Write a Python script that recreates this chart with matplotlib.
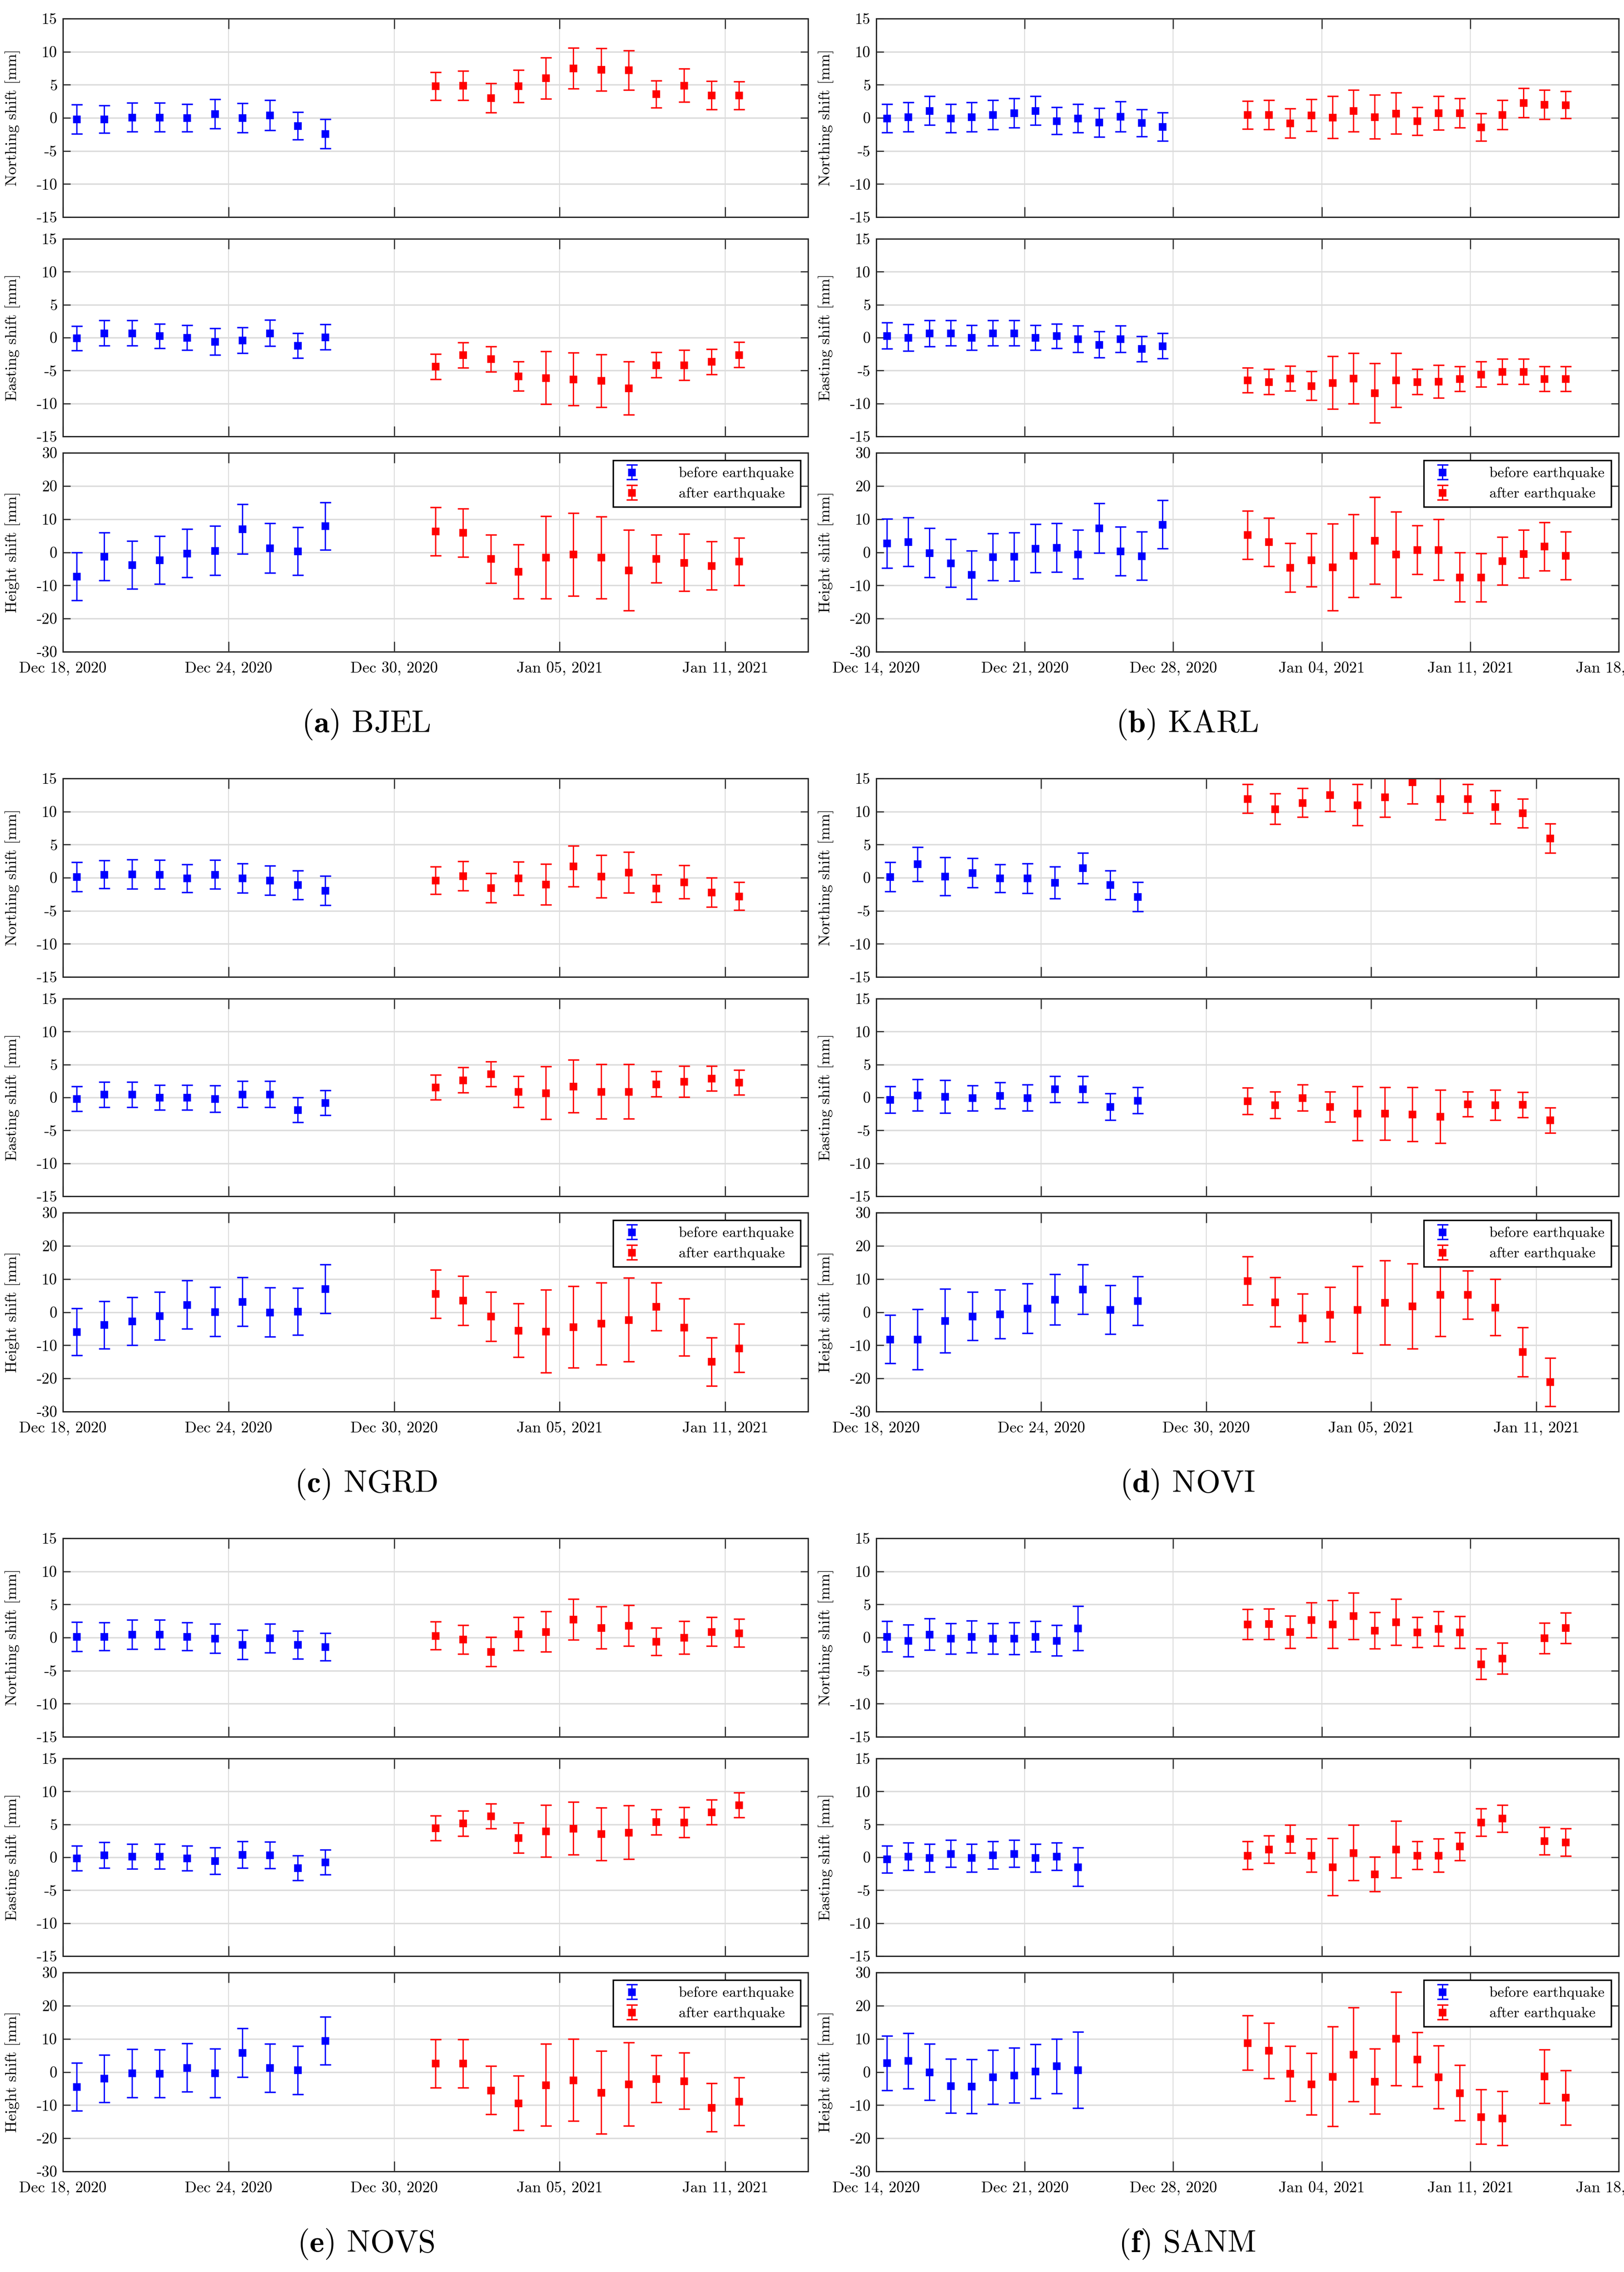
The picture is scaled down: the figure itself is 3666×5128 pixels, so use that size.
import numpy as np
import pandas as pd
import matplotlib
matplotlib.use('Agg')
import matplotlib.pyplot as plt
import matplotlib.dates as mdates

plt.rcParams['font.family'] = ['cmr10', 'DejaVu Serif']
plt.rcParams['mathtext.fontset'] = 'cm'
plt.rcParams['axes.unicode_minus'] = False
plt.rcParams['axes.formatter.use_mathtext'] = True

# ---- dates (daily solutions, plotted at midday) ----
def days(a, b):
    return pd.date_range(a, b, freq='D') + pd.Timedelta(hours=12)

DATES_B_18 = days('2020-12-18', '2020-12-27')
DATES_A_18 = days('2020-12-31', '2021-01-11')
KARL_DATES_B = days('2020-12-14', '2020-12-27')
KARL_DATES_A = days('2020-12-31', '2021-01-15')
SANM_DATES_B = days('2020-12-14', '2020-12-23')
SANM_DATES_A = days('2020-12-31', '2021-01-12').append(days('2021-01-14', '2021-01-15'))

# ---- BJEL ----
BJEL_N_B = [-0.2, -0.2, 0.1, 0.1, 0.0, 0.6, 0.0, 0.4, -1.2, -2.4]
BJEL_N_B_ERR = [2.2, 2.1, 2.2, 2.2, 2.05, 2.2, 2.2, 2.3, 2.1, 2.2]
BJEL_N_A = [4.8, 4.9, 3.0, 4.8, 6.0, 7.5, 7.3, 7.2, 3.6, 4.9, 3.4, 3.4]
BJEL_N_A_ERR = [2.1, 2.2, 2.2, 2.45, 3.1, 3.1, 3.2, 3.0, 2.05, 2.5, 2.15, 2.1]
BJEL_E_B = [-0.1, 0.7, 0.7, 0.25, 0.0, -0.6, -0.4, 0.7, -1.2, 0.1]
BJEL_E_B_ERR = [1.85, 1.9, 1.9, 1.85, 1.9, 2.0, 1.95, 2.0, 1.9, 1.9]
BJEL_E_A = [-4.4, -2.65, -3.25, -5.85, -6.1, -6.3, -6.55, -7.65, -4.15, -4.15, -3.65, -2.6]
BJEL_E_A_ERR = [1.9, 1.9, 1.9, 2.25, 4.0, 4.0, 4.0, 4.05, 1.9, 2.3, 1.9, 1.9]
BJEL_H_B = [-7.25, -1.3, -3.8, -2.3, -0.3, 0.5, 7.0, 1.3, 0.3, 7.9]
BJEL_H_B_ERR = [7.25, 7.2, 7.2, 7.2, 7.3, 7.4, 7.45, 7.45, 7.2, 7.2]
BJEL_H_A = [6.3, 5.9, -2.0, -5.8, -1.5, -0.65, -1.6, -5.4, -1.9, -3.1, -4.05, -2.8]
BJEL_H_A_ERR = [7.3, 7.3, 7.3, 8.15, 12.4, 12.45, 12.4, 12.2, 7.2, 8.6, 7.3, 7.2]

# ---- KARL ----
KARL_N_B = [-0.05, 0.15, 1.1, -0.05, 0.15, 0.45, 0.75, 1.1, -0.45, -0.05, -0.7, 0.2, -0.75, -1.35]
KARL_N_B_ERR = [2.15, 2.2, 2.15, 2.15, 2.2, 2.2, 2.2, 2.15, 2.05, 2.15, 2.2, 2.3, 2.05, 2.15]
KARL_N_A = [0.45, 0.45, -0.8, 0.4, 0.1, 1.05, 0.15, 0.7, -0.5, 0.75, 0.75, -1.4, 0.45, 2.3, 2.0, 1.95]
KARL_N_A_ERR = [2.1, 2.2, 2.2, 2.4, 3.2, 3.15, 3.3, 3.1, 2.1, 2.55, 2.2, 2.05, 2.2, 2.2, 2.2, 2.05]
KARL_E_B = [0.3, 0.0, 0.65, 0.7, 0.0, 0.7, 0.7, 0.0, 0.25, -0.2, -1.05, -0.2, -1.7, -1.25]
KARL_E_B_ERR = [2.0, 2.0, 2.0, 1.9, 1.9, 1.9, 1.9, 1.9, 1.85, 2.0, 2.0, 2.0, 1.9, 1.9]
KARL_E_A = [-6.45, -6.7, -6.2, -7.3, -6.85, -6.2, -8.4, -6.45, -6.7, -6.65, -6.25, -5.55, -5.15, -5.15, -6.25, -6.25]
KARL_E_A_ERR = [1.9, 1.9, 1.9, 2.2, 4.0, 3.85, 4.5, 4.1, 1.9, 2.5, 1.9, 1.9, 1.9, 1.9, 1.9, 1.9]
KARL_H_B = [2.7, 3.15, -0.15, -3.3, -6.8, -1.45, -1.3, 1.2, 1.45, -0.6, 7.25, 0.4, -1.1, 8.4]
KARL_H_B_ERR = [7.4, 7.35, 7.4, 7.2, 7.3, 7.1, 7.3, 7.3, 7.35, 7.4, 7.5, 7.35, 7.3, 7.3]
KARL_H_A = [5.25, 3.1, -4.6, -2.35, -4.45, -1.05, 3.5, -0.65, 0.75, 0.8, -7.5, -7.6, -2.65, -0.45, 1.75, -1.05]
KARL_H_A_ERR = [7.3, 7.3, 7.3, 8.0, 13.1, 12.5, 13.1, 12.85, 7.35, 9.1, 7.4, 7.3, 7.2, 7.25, 7.25, 7.2]

# ---- NGRD ----
NGRD_N_B = [0.15, 0.5, 0.55, 0.5, -0.1, 0.5, -0.05, -0.4, -1.1, -1.95]
NGRD_N_B_ERR = [2.2, 2.1, 2.2, 2.2, 2.1, 2.2, 2.2, 2.2, 2.15, 2.2]
NGRD_N_A = [-0.4, 0.25, -1.55, -0.1, -1.0, 1.75, 0.2, 0.8, -1.6, -0.65, -2.2, -2.8]
NGRD_N_A_ERR = [2.1, 2.2, 2.2, 2.5, 3.1, 3.1, 3.2, 3.1, 2.05, 2.5, 2.2, 2.1]
NGRD_E_B = [-0.2, 0.45, 0.45, 0.0, 0.0, -0.2, 0.5, 0.5, -1.9, -0.8]
NGRD_E_B_ERR = [1.9, 1.9, 1.9, 1.9, 1.9, 2.0, 2.0, 2.0, 1.9, 1.9]
NGRD_E_A = [1.55, 2.65, 3.55, 0.9, 0.7, 1.7, 0.9, 0.9, 2.05, 2.45, 2.9, 2.3]
NGRD_E_A_ERR = [1.9, 1.9, 1.9, 2.35, 4.0, 4.0, 4.15, 4.15, 1.9, 2.35, 1.9, 1.9]
NGRD_H_B = [-5.9, -3.85, -2.7, -1.1, 2.25, 0.1, 3.15, 0.0, 0.2, 7.0]
NGRD_H_B_ERR = [7.1, 7.15, 7.2, 7.2, 7.3, 7.4, 7.4, 7.4, 7.1, 7.3]
NGRD_H_A = [5.5, 3.5, -1.3, -5.5, -5.75, -4.45, -3.45, -2.3, 1.7, -4.55, -14.95, -10.85]
NGRD_H_A_ERR = [7.3, 7.45, 7.4, 8.1, 12.45, 12.3, 12.35, 12.6, 7.2, 8.65, 7.3, 7.3]

# ---- NOVI ----
NOVI_N_B = [0.15, 2.05, 0.2, 0.75, -0.1, -0.1, -0.75, 1.45, -1.1, -2.9]
NOVI_N_B_ERR = [2.2, 2.6, 2.85, 2.2, 2.1, 2.25, 2.4, 2.3, 2.2, 2.2]
NOVI_N_A = [11.95, 10.4, 11.35, 12.55, 11.0, 12.2, 14.45, 11.9, 11.95, 10.7, 9.75, 5.95]
NOVI_N_A_ERR = [2.2, 2.3, 2.2, 2.5, 3.1, 3.05, 3.3, 3.1, 2.2, 2.5, 2.2, 2.2]
NOVI_E_B = [-0.35, 0.35, 0.15, -0.1, 0.3, -0.05, 1.25, 1.25, -1.4, -0.45]
NOVI_E_B_ERR = [2.0, 2.4, 2.5, 1.9, 2.0, 2.0, 2.0, 2.0, 2.0, 2.0]
NOVI_E_A = [-0.55, -1.15, -0.05, -1.4, -2.45, -2.45, -2.55, -2.9, -1.0, -1.15, -1.1, -3.45]
NOVI_E_A_ERR = [2.0, 2.0, 2.0, 2.3, 4.1, 4.0, 4.1, 4.05, 1.9, 2.3, 1.9, 1.9]
NOVI_H_B = [-8.2, -8.2, -2.6, -1.25, -0.6, 1.1, 3.8, 6.9, 0.75, 3.4]
NOVI_H_B_ERR = [7.3, 9.1, 9.65, 7.3, 7.4, 7.5, 7.6, 7.45, 7.4, 7.35]
NOVI_H_A = [9.45, 3.05, -1.75, -0.7, 0.7, 2.9, 1.8, 5.3, 5.25, 1.45, -12.0, -21.1]
NOVI_H_A_ERR = [7.3, 7.45, 7.35, 8.2, 13.1, 12.7, 12.8, 12.6, 7.3, 8.5, 7.45, 7.3]

# ---- NOVS ----
NOVS_N_B = [0.15, 0.15, 0.45, 0.45, 0.15, -0.15, -1.05, -0.1, -1.1, -1.4]
NOVS_N_B_ERR = [2.2, 2.1, 2.2, 2.2, 2.1, 2.2, 2.2, 2.2, 2.1, 2.1]
NOVS_N_A = [0.3, -0.3, -2.15, 0.55, 0.9, 2.75, 1.5, 1.8, -0.6, 0.0, 0.9, 0.7]
NOVS_N_A_ERR = [2.1, 2.2, 2.2, 2.5, 3.05, 3.1, 3.2, 3.1, 2.05, 2.5, 2.2, 2.1]
NOVS_E_B = [-0.15, 0.35, 0.15, 0.15, -0.15, -0.55, 0.4, 0.35, -1.6, -0.75]
NOVS_E_B_ERR = [1.9, 1.95, 1.9, 1.9, 1.9, 2.0, 2.0, 2.0, 1.9, 1.9]
NOVS_E_A = [4.45, 5.15, 6.25, 2.95, 4.0, 4.4, 3.55, 3.8, 5.35, 5.3, 6.85, 7.95]
NOVS_E_A_ERR = [1.9, 1.9, 1.9, 2.3, 3.95, 4.0, 4.0, 4.1, 1.9, 2.3, 1.9, 1.9]
NOVS_H_B = [-4.45, -2.0, -0.4, -0.45, 1.3, -0.3, 5.8, 1.25, 0.55, 9.45]
NOVS_H_B_ERR = [7.25, 7.2, 7.3, 7.2, 7.3, 7.35, 7.4, 7.3, 7.3, 7.25]
NOVS_H_A = [2.55, 2.55, -5.5, -9.4, -3.9, -2.45, -6.2, -3.65, -2.05, -2.7, -10.7, -8.9]
NOVS_H_A_ERR = [7.25, 7.25, 7.3, 8.2, 12.35, 12.35, 12.5, 12.6, 7.1, 8.5, 7.25, 7.2]

# ---- SANM ----
SANM_N_B = [0.15, -0.45, 0.5, -0.15, 0.15, -0.15, -0.15, 0.15, -0.45, 1.4]
SANM_N_B_ERR = [2.3, 2.4, 2.4, 2.3, 2.4, 2.3, 2.4, 2.3, 2.3, 3.35]
SANM_N_A = [2.0, 2.05, 0.85, 2.65, 2.0, 3.25, 1.05, 2.35, 0.8, 1.35, 0.8, -4.0, -3.15, -0.1, 1.45]
SANM_N_A_ERR = [2.3, 2.3, 2.45, 2.65, 3.6, 3.5, 2.75, 3.5, 2.3, 2.6, 2.4, 2.3, 2.35, 2.3, 2.3]
SANM_E_B = [-0.3, 0.15, -0.1, 0.55, -0.1, 0.35, 0.55, -0.1, 0.15, -1.45]
SANM_E_B_ERR = [2.05, 2.1, 2.1, 2.05, 2.1, 2.1, 2.05, 2.1, 2.1, 2.95]
SANM_E_A = [0.3, 1.2, 2.8, 0.3, -1.45, 0.7, -2.55, 1.2, 0.3, 0.3, 1.65, 5.3, 5.9, 2.5, 2.3]
SANM_E_A_ERR = [2.1, 2.1, 2.1, 2.5, 4.35, 4.2, 2.6, 4.3, 2.1, 2.5, 2.1, 2.1, 2.05, 2.1, 2.1]
SANM_H_B = [2.7, 3.4, -0.05, -4.2, -4.35, -1.55, -1.0, 0.25, 1.75, 0.6]
SANM_H_B_ERR = [8.25, 8.35, 8.5, 8.1, 8.1, 8.15, 8.25, 8.15, 8.25, 11.45]
SANM_H_A = [8.8, 6.45, -0.45, -3.65, -1.35, 5.25, -2.85, 10.05, 3.8, -1.55, -6.3, -13.5, -13.95, -1.3, -7.75]
SANM_H_A_ERR = [8.2, 8.35, 8.3, 9.3, 15.05, 14.2, 9.8, 14.1, 8.2, 9.5, 8.35, 8.2, 8.2, 8.1, 8.2]

YLABELS = ['Northing shift [mm]', 'Easting shift [mm]', 'Height shift [mm]']

# figure in pixels
W, H = 3666, 5128
fig = plt.figure(figsize=(W / 300, H / 300), dpi=300)

COLS = [(142, 1824), (1978, 3654)]
ROW_OFF = [0, 1715, 3430]
SUB = [(42, 448), (539, 446), (1022, 449)]
CAP_X = [826, 2680]
CAP_Y = 1635


def new_ax(x0, x1, top, h):
    return fig.add_axes([x0 / W, 1 - (top + h) / H, (x1 - x0) / W, h / H])


def station(col, row, letter, name, xlim, step, db, da, comps):
    x0, x1 = COLS[col]
    ticks = pd.date_range(xlim[0], xlim[1], freq=f'{step}D')
    for k, (vb, eb, va, ea) in enumerate(comps):
        top, h = SUB[k]
        ax = new_ax(x0, x1, ROW_OFF[row] + top, h)
        kw = dict(fmt='s', ms=3.4, elinewidth=0.7, capsize=3.0, capthick=0.8)
        for dd, vv, ee, c, lab in [(db, vb, eb, '#0000ff', 'before earthquake'),
                                   (da, va, ea, '#ff0000', 'after earthquake')]:
            ax.errorbar(dd, vv, yerr=ee, color=c, mfc=c, mec=c, mew=0.8,
                        label=lab, **kw)
        ax.set_xlim(pd.Timestamp(xlim[0]), pd.Timestamp(xlim[1]))
        lim = 30 if k == 2 else 15
        yt = np.arange(-lim, lim + 1, 10 if k == 2 else 5)
        ax.set_ylim(-lim, lim)
        ax.set_yticks(yt)
        ax.set_yticklabels([str(v) for v in yt])
        ax.set_xticks(ticks)
        if k == 2:
            ax.xaxis.set_major_formatter(mdates.DateFormatter('%b %d, %Y'))
        else:
            ax.set_xticklabels([])
        ax.grid(True, axis='y', color='#dcdcdc', lw=0.8)
        ax.grid(True, axis='x', color='#dcdcdc', lw=0.5)
        ax.set_axisbelow(True)
        ax.tick_params(direction='in', top=True, right=True, width=0.6,
                       color='#262626', labelsize=8.5, pad=3)
        ax.tick_params(axis='y', length=4)
        ax.tick_params(axis='x', length=5.5, pad=5)
        for s in ax.spines.values():
            s.set_linewidth(0.7)
            s.set_color('#262626')
        ax.set_ylabel(YLABELS[k], fontsize=8.5)
        ax.yaxis.set_label_coords(-0.057, 0.5)
        if k == 2:
            leg = ax.legend(loc='upper right', fontsize=8, fancybox=False,
                            edgecolor='k', framealpha=1, borderaxespad=0.5,
                            handlelength=1.6, handletextpad=2.4, borderpad=0.45,
                            labelspacing=0.5)
            leg.get_frame().set_linewidth(0.8)
    fig.text(CAP_X[col] / W, 1 - (ROW_OFF[row] + CAP_Y) / H,
             r'($\mathbf{' + letter + r'}$) ' + name,
             ha='center', va='center', fontsize=17)


LEFT = ('2020-12-18', '2021-01-14')
RIGHT = ('2020-12-14', '2021-01-18')

station(0, 0, 'a', 'BJEL', LEFT, 6, DATES_B_18, DATES_A_18,
        [(BJEL_N_B, BJEL_N_B_ERR, BJEL_N_A, BJEL_N_A_ERR),
         (BJEL_E_B, BJEL_E_B_ERR, BJEL_E_A, BJEL_E_A_ERR),
         (BJEL_H_B, BJEL_H_B_ERR, BJEL_H_A, BJEL_H_A_ERR)])
station(1, 0, 'b', 'KARL', RIGHT, 7, KARL_DATES_B, KARL_DATES_A,
        [(KARL_N_B, KARL_N_B_ERR, KARL_N_A, KARL_N_A_ERR),
         (KARL_E_B, KARL_E_B_ERR, KARL_E_A, KARL_E_A_ERR),
         (KARL_H_B, KARL_H_B_ERR, KARL_H_A, KARL_H_A_ERR)])
station(0, 1, 'c', 'NGRD', LEFT, 6, DATES_B_18, DATES_A_18,
        [(NGRD_N_B, NGRD_N_B_ERR, NGRD_N_A, NGRD_N_A_ERR),
         (NGRD_E_B, NGRD_E_B_ERR, NGRD_E_A, NGRD_E_A_ERR),
         (NGRD_H_B, NGRD_H_B_ERR, NGRD_H_A, NGRD_H_A_ERR)])
station(1, 1, 'd', 'NOVI', LEFT, 6, DATES_B_18, DATES_A_18,
        [(NOVI_N_B, NOVI_N_B_ERR, NOVI_N_A, NOVI_N_A_ERR),
         (NOVI_E_B, NOVI_E_B_ERR, NOVI_E_A, NOVI_E_A_ERR),
         (NOVI_H_B, NOVI_H_B_ERR, NOVI_H_A, NOVI_H_A_ERR)])
station(0, 2, 'e', 'NOVS', LEFT, 6, DATES_B_18, DATES_A_18,
        [(NOVS_N_B, NOVS_N_B_ERR, NOVS_N_A, NOVS_N_A_ERR),
         (NOVS_E_B, NOVS_E_B_ERR, NOVS_E_A, NOVS_E_A_ERR),
         (NOVS_H_B, NOVS_H_B_ERR, NOVS_H_A, NOVS_H_A_ERR)])
station(1, 2, 'f', 'SANM', RIGHT, 7, SANM_DATES_B, SANM_DATES_A,
        [(SANM_N_B, SANM_N_B_ERR, SANM_N_A, SANM_N_A_ERR),
         (SANM_E_B, SANM_E_B_ERR, SANM_E_A, SANM_E_A_ERR),
         (SANM_H_B, SANM_H_B_ERR, SANM_H_A, SANM_H_A_ERR)])

fig.savefig('out.png', dpi=300)
